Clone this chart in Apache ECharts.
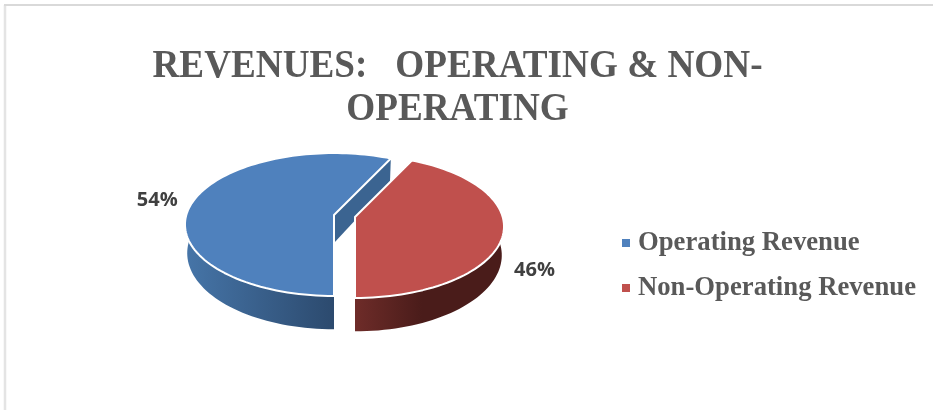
<!DOCTYPE html>
<html>
<head>
<meta charset="utf-8">
<style>html,body{margin:0;padding:0;background:#fff}#chart{width:933px;height:410px}</style>
<script src="https://cdn.jsdelivr.net/npm/echarts@6/dist/echarts.min.js"></script>
</head>
<body>
<div id="chart"></div>
<script>
// Revenue split
const categories = ['Operating Revenue', 'Non-Operating Revenue'];
const shares = [54, 46];
const titleText = 'REVENUES:   OPERATING & NON-\nOPERATING';

// Slice colours: top face, cut wall, rim gradient
const topColors = ['#4F81BD', '#C0504D'];
const wallColors = ['#3B6491', '#6E2C29'];
const rimColors = [['#4675A8', '#2C4A6E'], ['#6E2C29', '#4A1C1A']];

// Tilted pie view
const view = {
  apexX: 334, apexY: 215, radiusX: 147.7, radiusY: 70.2,
  perspective: 0.133, backTurn: 11.3,
  depth: 28, depthPerPx: 0.065, baseScale: 0.985
};
// Each slice's shift away from the pie and its label's offset from the arc midpoint
const sliceShift = [[0, 0], [21, 2]];
const labelOffset = [[-37.5, 1], [31, 38]];
const rad = Math.PI / 180;

// Turns the flat pie angle into the angle seen in the tilted view
function viewAngle(deg) {
  return deg + view.backTurn * (1 + Math.cos(deg * rad)) / 2;
}
function topPoint(deg, shift) {
  const t = deg * rad, w = 1 + view.perspective * Math.cos(t);
  return [
    view.apexX + shift[0] + view.radiusX * Math.sin(t) / w,
    view.apexY + shift[1] - view.radiusY * Math.cos(t) / w
  ];
}
function basePoint(p, shift) {
  const cx = view.apexX + shift[0];
  return [
    cx + (p[0] - cx) * view.baseScale,
    p[1] + view.depth + view.depthPerPx * (p[1] - view.apexY)
  ];
}
function arc(from, to, shift) {
  const n = Math.max(2, Math.ceil(Math.abs(to - from) / 2));
  const pts = [];
  for (let i = 0; i <= n; i++) pts.push(topPoint(from + (to - from) * i / n, shift));
  return pts;
}
// Slices run clockwise from straight down
function sliceRange(index) {
  const total = shares.reduce((a, b) => a + b, 0);
  const before = shares.slice(0, index).reduce((a, b) => a + b, 0);
  return [180 + 360 * before / total, 180 + 360 * (before + shares[index]) / total];
}

function renderSlice(index, params, api) {
  const share = api.value(0);
  const range = sliceRange(index);
  const from = viewAngle(range[0]);
  const to = viewAngle(range[1]);
  const shift = sliceShift[index];
  const apex = [view.apexX + shift[0], view.apexY + shift[1]];
  const children = [];

  // Outer rim: only the part of the arc facing the viewer
  const frontFrom = index === 0 ? from : Math.max(from, 360 + 90 - 8);
  const frontTo = index === 0 ? Math.min(to, 270 + 8) : to;
  const front = arc(frontFrom, frontTo, shift);
  const rimPts = front.concat(front.map(p => basePoint(p, shift)).reverse());
  children.push({
    type: 'polygon',
    shape: { points: rimPts },
    style: {
      fill: {
        type: 'linear', x: 0, y: 0, x2: 1, y2: 0,
        colorStops: index === 0
          ? [{ offset: 0, color: rimColors[0][0] }, { offset: 1, color: rimColors[0][1] }]
          : [{ offset: 0, color: rimColors[1][0] }, { offset: 0.45, color: rimColors[1][1] }, { offset: 1, color: rimColors[1][1] }]
      }
    }
  });

  // Cut wall, visible on the slice whose far edge turns toward the viewer
  if (index === 0) {
    const corner = topPoint(to, shift);
    children.push({
      type: 'polygon',
      shape: { points: [apex, corner, basePoint(corner, shift), basePoint(apex, shift)] },
      style: { fill: wallColors[index] }
    });
  }

  // Top face with its pale bevel
  children.push({
    type: 'polygon',
    shape: { points: [apex].concat(arc(from, to, shift)) },
    style: { fill: topColors[index], stroke: '#FFFFFF', lineWidth: 2, lineJoin: 'round' }
  });

  // Value label beside the arc midpoint
  const mid = topPoint(viewAngle((range[0] + range[1]) / 2), shift);
  children.push({
    type: 'text',
    style: {
      x: mid[0] + labelOffset[index][0],
      y: mid[1] + labelOffset[index][1],
      text: share + '%',
      fill: '#404040',
      font: 'bold 20px "Open Sans", sans-serif',
      align: 'center',
      verticalAlign: 'middle'
    }
  });
  return { type: 'group', children };
}

const chart = echarts.init(document.getElementById('chart'), null, { renderer: 'canvas' });
chart.setOption({
  animation: false,
  backgroundColor: '#FFFFFF',
  color: topColors,
  legend: {
    orient: 'vertical',
    left: 617,
    top: 223,
    itemWidth: 8,
    itemHeight: 8,
    itemGap: 15,
    icon: 'rect',
    data: categories,
    textStyle: {
      fontFamily: '"Liberation Serif", serif',
      fontWeight: 'bold',
      fontSize: 26.7,
      lineHeight: 30,
      color: '#595959',
      padding: [0, 0, 0, 3]
    }
  },
  graphic: [{
    // Narrowed heading set as stretched serif capitals
    type: 'text',
    silent: true,
    x: 457.5,
    y: 45,
    scaleX: 0.93,
    style: {
      text: titleText,
      font: 'bold 40px "Liberation Serif", serif',
      lineHeight: 43,
      fill: '#595959',
      align: 'center',
      verticalAlign: 'top'
    }
  }, {
    type: 'line',
    silent: true,
    shape: { x1: 5, y1: 5, x2: 5, y2: 410 },
    style: { stroke: '#E4E4E4', lineWidth: 2.5 }
  }, {
    type: 'line',
    silent: true,
    shape: { x1: 4, y1: 5, x2: 933, y2: 5 },
    style: { stroke: '#D9D9D9', lineWidth: 2 }
  }],
  series: categories.map((name, i) => ({
    type: 'custom',
    name,
    coordinateSystem: 'none',
    itemStyle: { color: topColors[i] },
    data: [[shares[i]]],
    renderItem: (params, api) => renderSlice(i, params, api)
  }))
});
</script>
</body>
</html>
